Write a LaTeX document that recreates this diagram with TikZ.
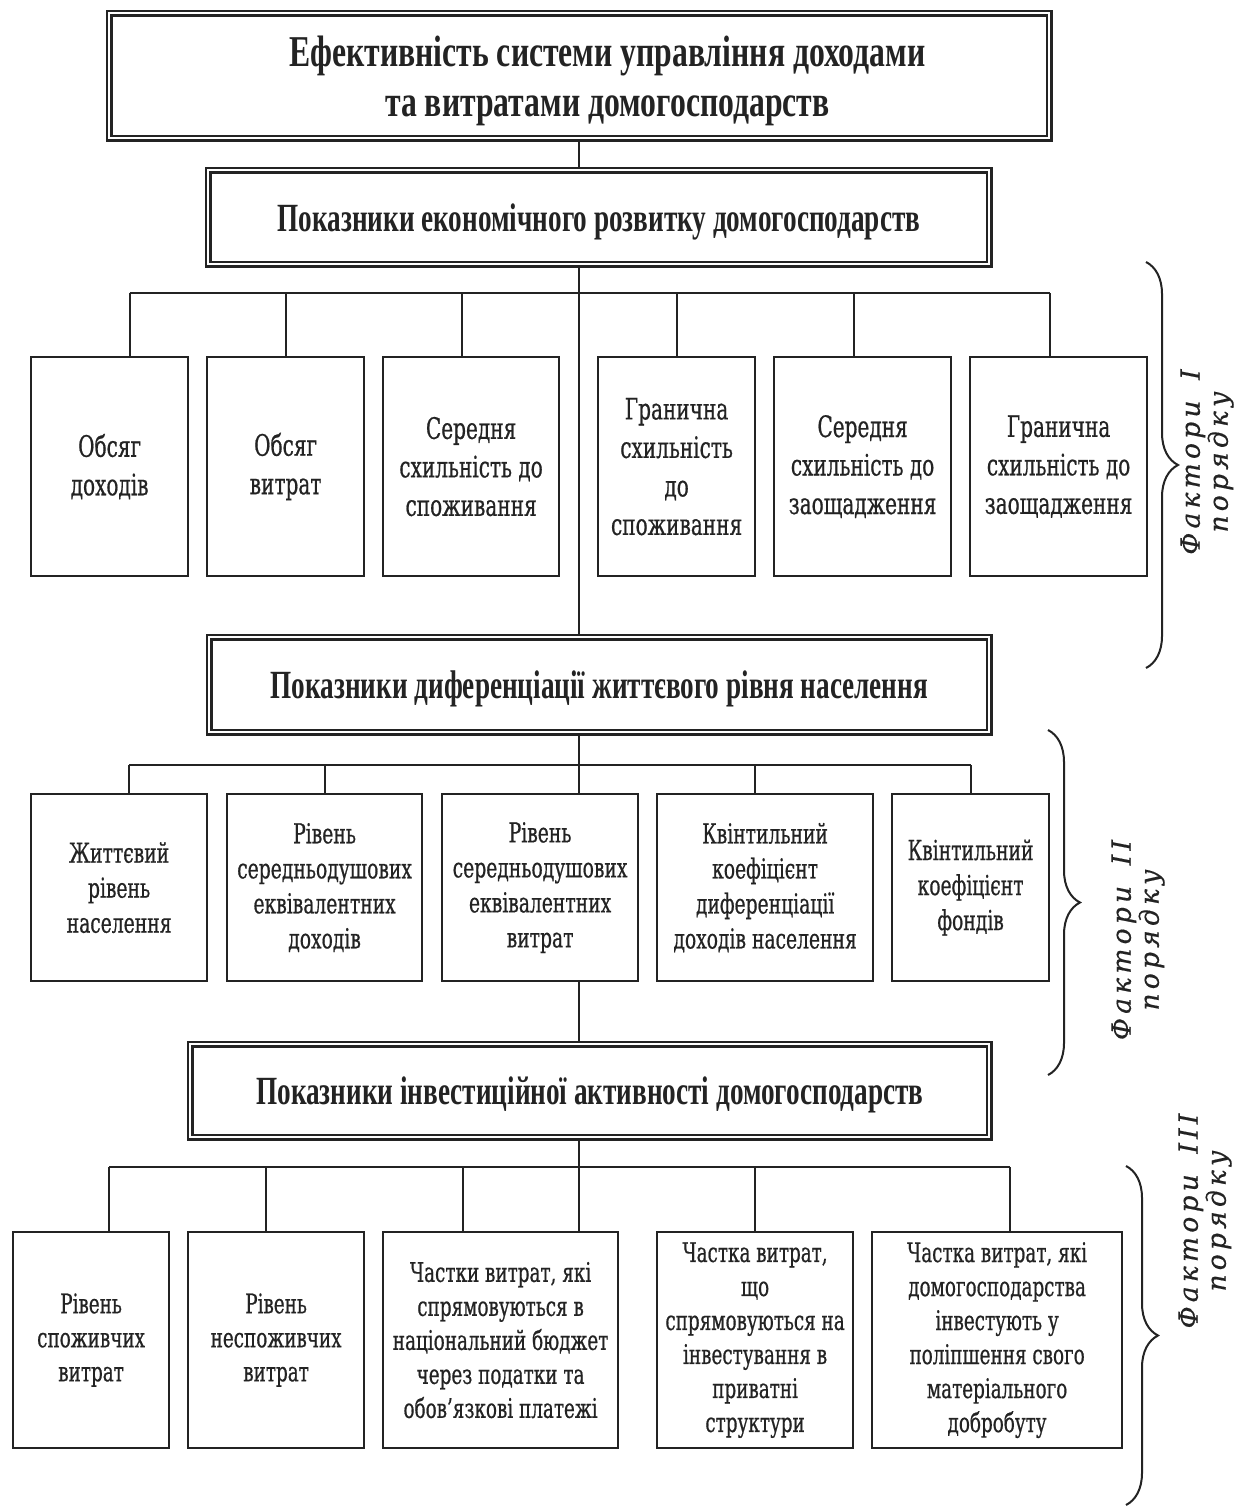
\documentclass[tikz,border=0pt]{standalone}
\usepackage{fontspec}
\setmainfont{DejaVu Serif}
\newfontfamily\bodyf{DejaVu Serif}[FakeStretch=0.68,FakeBold=0.6]
\newfontfamily\headf{Liberation Serif}[FakeStretch=0.68]
\newfontfamily\topf{Liberation Serif}[FakeStretch=0.72]
\newfontfamily\labf{DejaVu Serif}[LetterSpace=16,FakeBold=0.5]
\usetikzlibrary{decorations.pathreplacing,calc}
\definecolor{ink}{RGB}{35,35,35}
\tikzset{
  leaf/.style={draw=ink, line width=2.2pt, anchor=north west, inner sep=0pt,
    align=center, text=ink},
  l1/.style={leaf, minimum height=219pt, font=\bodyf\fontsize{29.5}{38.5}\selectfont},
  l2/.style={leaf, minimum height=187pt, font=\bodyf\fontsize{27.5}{35}\selectfont},
  l3/.style={leaf, minimum height=216pt, font=\bodyf\fontsize{27}{34}\selectfont},
  head/.style={draw=ink, double=white, double distance=2pt, line width=2.8pt,
    anchor=north west, inner sep=0pt, align=center, text=ink, text depth=0pt,
    font=\headf\bfseries\fontsize{40}{50}\selectfont},
  conn/.style={draw=ink, line width=2pt},
  brc/.style={draw=ink, line width=2pt, decorate, decoration={brace, amplitude=32pt}},
  lab/.style={rotate=90, align=center, text=ink, inner sep=0pt,
    font=\labf\itshape\fontsize{26.5}{28}\selectfont},
}
\begin{document}
\begin{tikzpicture}[x=1pt,y=-1pt]
\useasboundingbox (0,0) rectangle (1237,1510);
\fill[white] (0,0) rectangle (1237,1510);

% headers
\node[head, minimum width=940pt, minimum height=125pt, font=\topf\bfseries\fontsize{44}{50}\selectfont] (h1) at (108,12)
  {\hspace*{56pt}Ефективність системи управління доходами\\\hspace*{56pt}та витратами домогосподарств};
\node[head, minimum width=781pt, minimum height=94pt] (h2) at (207,169)
  {Показники економічного розвитку домогосподарств};
\node[head, minimum width=780pt, minimum height=95pt] (h3) at (208,636)
  {Показники диференціації життєвого рівня населення};
\node[head, minimum width=799pt, minimum height=93pt] (h4) at (189,1043)
  {Показники інвестиційної активності домогосподарств};

% level 1
\node[l1, minimum width=157pt] (b11) at (30,356) {Обсяг\\доходів};
\node[l1, minimum width=157pt] (b12) at (206,356) {Обсяг\\витрат};
\node[l1, minimum width=176pt] (b13) at (382,356) {Середня\\схильність до\\споживання};
\node[l1, minimum width=157pt] (b14) at (597,356) {Гранична\\схильність\\до\\споживання};
\node[l1, minimum width=177pt] (b15) at (773,356) {Середня\\схильність до\\заощадження};
\node[l1, minimum width=177pt] (b16) at (969,356) {Гранична\\схильність до\\заощадження};

% level 2
\node[l2, minimum width=176pt] (b21) at (30,793) {Життєвий\\рівень\\населення};
\node[l2, minimum width=195pt] (b22) at (226,793) {Рівень\\середньодушових\\еквівалентних\\доходів};
\node[l2, minimum width=196pt] (b23) at (441,793) {Рівень\\середньодушових\\еквівалентних\\витрат};
\node[l2, minimum width=216pt] (b24) at (656,793) {Квінтильний\\коефіцієнт\\диференціації\\доходів населення};
\node[l2, minimum width=157pt] (b25) at (891,793) {Квінтильний\\коефіцієнт\\фондів};

% level 3
\node[l3, minimum width=156pt] (b31) at (12,1231) {Рівень\\споживчих\\витрат};
\node[l3, minimum width=176pt] (b32) at (187,1231) {Рівень\\неспоживчих\\витрат};
\node[l3, minimum width=235pt] (b33) at (382,1231) {Частки витрат, які\\спрямовуються в\\національний бюджет\\через податки та\\обов’язкові платежі};
\node[l3, minimum width=196pt] (b34) at (656,1231) {Частка витрат,\\що\\спрямовуються на\\інвестування в\\приватні\\структури};
\node[l3, minimum width=250pt] (b35) at (871,1231) {Частка витрат, які\\домогосподарства\\інвестують у\\поліпшення свого\\матеріального\\добробуту};

% bus coordinates
\coordinate (bus1) at (578,293);
\coordinate (bus2) at (578,765);
\coordinate (bus3) at (578,1167);

% spine
\draw[conn] (h1.south) -- (h2.north -| h1.south);
\draw[conn] (h2.south -| h1.south) -- (h3.north -| h1.south);
\draw[conn] (h3.south -| h1.south) -- (b23.north -| h1.south);
\draw[conn] (b23.south -| h1.south) -- (h4.north -| h1.south);
\draw[conn] (h4.south -| h1.south) -- (b33.north -| h1.south);

% level 1 connectors
\draw[conn] ([xshift=20pt]b11.north |- bus1) -- ([xshift=-9pt]b16.north |- bus1);
\draw[conn] ([xshift=20pt]b11.north) -- ([xshift=20pt]b11.north |- bus1);
\draw[conn] (b12.north) -- (b12.north |- bus1);
\draw[conn] ([xshift=-9pt]b13.north) -- ([xshift=-9pt]b13.north |- bus1);
\draw[conn] (b14.north) -- (b14.north |- bus1);
\draw[conn] ([xshift=-9pt]b15.north) -- ([xshift=-9pt]b15.north |- bus1);
\draw[conn] ([xshift=-9pt]b16.north) -- ([xshift=-9pt]b16.north |- bus1);

% level 2 connectors
\draw[conn] ([xshift=10pt]b21.north |- bus2) -- (b25.north |- bus2);
\draw[conn] ([xshift=10pt]b21.north) -- ([xshift=10pt]b21.north |- bus2);
\draw[conn] (b22.north) -- (b22.north |- bus2);
\draw[conn] ([xshift=-10pt]b24.north) -- ([xshift=-10pt]b24.north |- bus2);
\draw[conn] (b25.north) -- (b25.north |- bus2);

% level 3 connectors
\draw[conn] ([xshift=18pt]b31.north |- bus3) -- ([xshift=13pt]b35.north |- bus3);
\draw[conn] ([xshift=18pt]b31.north) -- ([xshift=18pt]b31.north |- bus3);
\draw[conn] ([xshift=-10pt]b32.north) -- ([xshift=-10pt]b32.north |- bus3);
\draw[conn] ([xshift=-38pt]b33.north) -- ([xshift=-38pt]b33.north |- bus3);
\draw[conn] (b34.north) -- (b34.north |- bus3);
\draw[conn] ([xshift=13pt]b35.north) -- ([xshift=13pt]b35.north |- bus3);

% braces
\coordinate (br1a) at (1146,262); \coordinate (br1b) at (1146,668);
\coordinate (br2a) at (1048,730); \coordinate (br2b) at (1048,1075);
\coordinate (br3a) at (1126,1166); \coordinate (br3b) at (1126,1505);
\draw[brc] (br1a) -- (br1b);
\draw[brc] (br2a) -- (br2b);
\draw[brc] (br3a) -- (br3b);

\node[lab] (f1) at (1207,462) {Фактори\hspace{8pt} I\\порядку};
\node[lab] (f2) at (1138,940) {Фактори\hspace{8pt} II\\порядку};
\node[lab] (f3) at (1205,1221) {Фактори\hspace{8pt} III\\порядку};
\end{tikzpicture}
\end{document}
